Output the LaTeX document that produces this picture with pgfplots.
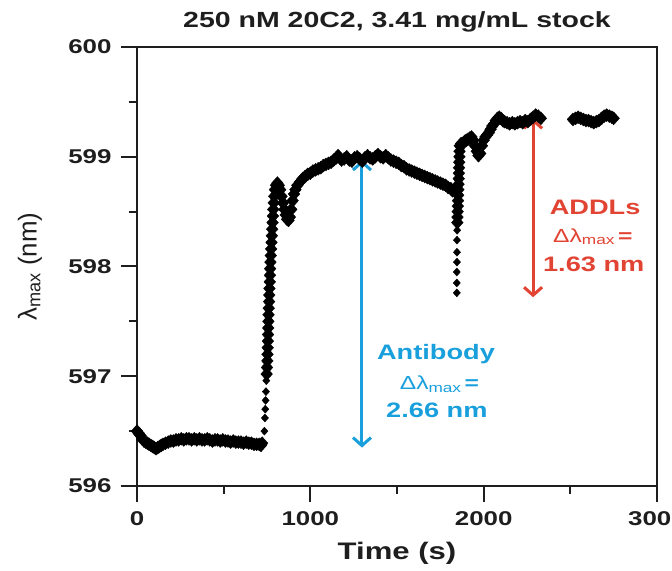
\documentclass[border=0pt]{standalone}
\usepackage{fontspec}
\setmainfont{Liberation Sans}[FakeStretch=1.3]
\newfontfamily\ylabfont{Liberation Sans}
\usepackage{pgfplots}
\pgfplotsset{compat=1.18}
\usetikzlibrary{arrows.meta}
\definecolor{abblue}{RGB}{25,160,220}
\definecolor{addred}{RGB}{226,68,52}
\definecolor{ink}{RGB}{30,30,30}

\begin{document}
\begin{tikzpicture}
\begin{axis}[
  scale only axis, width=520bp, height=439bp,
  xmin=0, xmax=3000, ymin=596, ymax=600,
  xtick={0,1000,2000,3000}, ytick={596,597,598,599,600},
  minor xtick={500,1500,2500}, minor ytick={596.5,597.5,598.5,599.5},
  xtick pos=bottom, ytick pos=left, tick align=outside,
  major tick length=16bp, minor tick length=8bp,
  axis line style={line width=2bp, ink},
  every tick/.style={line width=2bp, ink},
  /pgf/number format/assume math mode=true,
  /pgf/number format/1000 sep={},
  ticklabel style={font=\fontsize{20}{22}\selectfont\bfseries, text=ink},
  xticklabel style={yshift=-6bp},
  yticklabel style={xshift=-6bp},
  title={250 nM 20C2, 3.41 mg/mL stock},
  title style={font=\fontsize{22}{24}\selectfont\bfseries, text=ink,
    at={(axis description cs:0.5,1)}, anchor=base, yshift=14bp},
  xlabel={Time (s)},
  xlabel style={font=\fontsize{24}{26}\selectfont\bfseries, text=ink,
    at={(axis description cs:0.5,0)}, anchor=center, yshift=-67bp},
  ylabel={λ\textsubscript{max} (nm)},
  ylabel style={font=\fontsize{26}{28}\ylabfont, text=ink,
    at={([xshift=-107bp]axis description cs:0,0.5)}, anchor=center},
]
% dense trace
\addplot[only marks, mark=diamond*, mark size=6.5, black, mark options={xscale=1.2}] coordinates {
(0,596.50)(10,596.48)(20,596.46)(30,596.43)(40,596.41)(50,596.40)(60,596.39)(70,596.38)(80,596.37)(90,596.36)
(100,596.35)(110,596.34)(120,596.35)(130,596.36)(140,596.37)(150,596.38)(165,596.39)(180,596.40)(195,596.41)
(210,596.41)(225,596.42)(240,596.42)(255,596.43)(270,596.42)(285,596.43)(300,596.43)(315,596.42)(330,596.43)
(345,596.42)(360,596.43)(375,596.42)(390,596.42)(405,596.43)(420,596.42)(435,596.41)(450,596.42)(465,596.42)
(480,596.41)(495,596.42)(510,596.41)(525,596.41)(540,596.40)(555,596.41)(570,596.40)(585,596.40)(600,596.40)
(615,596.39)(630,596.40)(645,596.39)(660,596.39)(675,596.38)(690,596.38)(705,596.38)(715,596.37)(722,596.39)
(748,597.02)(750,597.08)(752,597.14)(753,597.20)(754,597.26)(755,597.32)(756,597.38)(757,597.44)(758,597.50)
(759,597.56)(760,597.62)(762,597.68)(763,597.74)(764,597.80)(766,597.86)(767,597.92)(768,597.98)(770,598.04)
(772,598.10)(774,598.16)(776,598.22)(778,598.28)(780,598.34)(782,598.40)(784,598.46)(786,598.52)(789,598.58)
(792,598.64)(796,598.70)(802,598.74)(810,598.76)(818,598.74)(826,598.70)(834,598.64)(842,598.58)(850,598.52)
(858,598.47)(866,598.43)(874,598.42)(882,598.45)(890,598.52)(898,598.60)(906,598.66)(914,598.70)(925,598.74)
(940,598.77)(955,598.80)(970,598.82)(985,598.84)(1000,598.85)(1015,598.87)(1030,598.88)(1045,598.89)
(1060,598.90)(1075,598.92)(1090,598.93)(1105,598.94)(1120,598.95)(1135,598.97)(1150,598.99)(1160,599.01)
(1170,598.99)(1180,598.97)(1195,598.98)(1210,599.00)(1225,598.97)(1240,598.96)(1255,598.99)(1270,599.00)
(1285,598.98)(1300,598.96)(1315,598.99)(1330,599.01)(1345,598.99)(1360,598.98)(1375,599.00)(1390,599.02)
(1405,599.00)(1420,598.99)(1435,599.01)(1450,598.99)(1465,598.97)(1480,598.96)(1495,598.95)(1510,598.94)
(1525,598.92)(1540,598.91)(1555,598.89)(1570,598.88)(1585,598.87)(1600,598.86)(1615,598.85)(1630,598.84)
(1645,598.83)(1660,598.82)(1675,598.81)(1690,598.80)(1705,598.79)(1720,598.78)(1735,598.77)(1750,598.76)
(1765,598.75)(1780,598.74)(1795,598.72)(1810,598.71)(1820,598.69)
(1848,598.40)(1849,598.45)(1850,598.50)(1851,598.55)(1852,598.60)(1853,598.65)(1854,598.70)(1855,598.75)
(1856,598.80)(1857,598.85)(1858,598.90)(1859,598.95)(1860,599.00)(1861,599.05)(1862,599.10)
(1870,599.12)(1880,599.12)(1890,599.14)(1900,599.15)(1910,599.16)(1920,599.17)(1930,599.18)(1940,599.15)
(1950,599.10)(1960,599.05)(1970,599.01)(1980,599.03)(1990,599.10)(2000,599.15)(2010,599.18)(2020,599.20)
(2030,599.22)(2040,599.25)(2050,599.28)(2060,599.30)(2070,599.33)(2080,599.35)(2090,599.36)(2100,599.35)
(2110,599.33)(2120,599.32)(2135,599.31)(2150,599.30)(2165,599.31)(2180,599.30)(2195,599.31)(2210,599.32)
(2225,599.31)(2240,599.33)(2255,599.32)(2270,599.34)(2285,599.36)(2300,599.38)(2315,599.37)(2330,599.35)
(2515,599.34)(2530,599.35)(2545,599.36)(2560,599.35)(2575,599.34)(2590,599.33)(2605,599.33)(2620,599.32)
(2635,599.31)(2650,599.32)(2665,599.33)(2680,599.35)(2695,599.37)(2710,599.38)(2725,599.37)(2740,599.36)
(2750,599.35)
};
% sparse points at the two jumps
\addplot[only marks, mark=diamond*, mark size=4, black, mark options={xscale=1.2}] coordinates {
(735,596.50)(738,596.62)(740,596.70)(742,596.78)(744,596.86)(746,596.96)
(1845,597.76)(1845,597.85)(1845,597.95)(1846,598.04)(1846,598.13)(1846,598.24)(1847,598.33)
};
\draw[{Straight Barb[length=8bp,width=18bp]}-{Straight Barb[length=8bp,width=18bp]}, line width=3bp, abblue]
  (axis cs:1298,596.35) -- (axis cs:1298,598.97);
\draw[{Straight Barb[length=8bp,width=18bp]}-{Straight Barb[length=8bp,width=18bp]}, line width=3bp, addred]
  (axis cs:2285,597.72) -- (axis cs:2285,599.35);
\node[text=abblue, font=\fontsize{21}{23}\selectfont\bfseries] at (axis cs:1725,597.2) {Antibody};
\node[text=abblue, font=\fontsize{19}{21}\selectfont] at (axis cs:1745,596.93) {Δλ\textsubscript{max}\,\textbf{=}};
\node[text=abblue, font=\fontsize{21}{23}\selectfont\bfseries] at (axis cs:1730,596.69) {2.66 nm};
\node[text=addred, font=\fontsize{21}{23}\selectfont\bfseries] at (axis cs:2643,598.54) {ADDLs};
\node[text=addred, font=\fontsize{19}{21}\selectfont] at (axis cs:2630,598.27) {Δλ\textsubscript{max}\,\textbf{=}};
\node[text=addred, font=\fontsize{21}{23}\selectfont\bfseries] at (axis cs:2635,598.02) {1.63 nm};
\end{axis}
\pgfresetboundingbox
\useasboundingbox (-137bp,-85bp) rectangle (535bp,486bp);
\end{tikzpicture}
\end{document}
